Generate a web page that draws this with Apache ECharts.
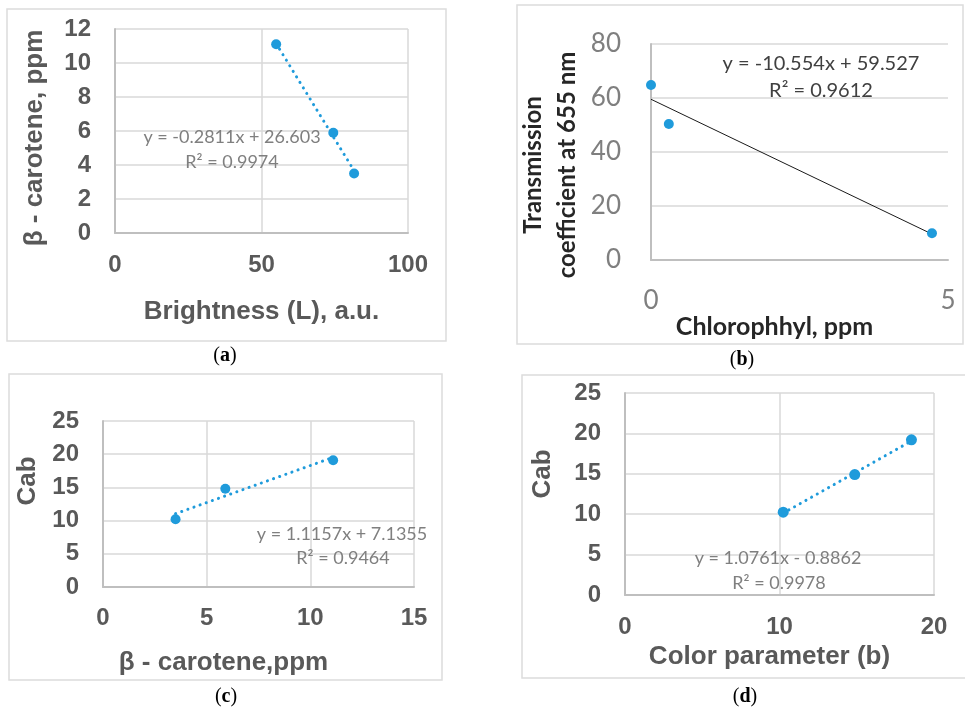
<!DOCTYPE html>
<html>
<head>
<meta charset="utf-8">
<script src="https://cdn.jsdelivr.net/npm/echarts@6/dist/echarts.min.js"></script>
<style>
  html, body { margin: 0; padding: 0; background: #ffffff; }
  #chart { width: 965px; height: 709px; }
</style>
</head>
<body>
<div id="chart"></div>
<script>
// (a) beta-carotene vs brightness
const brightnessL = [55.0, 74.5, 81.6];
const caroteneA = [11.1, 5.9, 3.5];
const fitA = { slope: -0.2811, intercept: 26.603, r2: '0.9974' };

// (b) transmission coefficient vs chlorophyll
const chlorophyll = [0.0, 0.3, 4.73];
const transmission = [64.8, 50.4, 9.9];
const fitB = { slope: -10.554, intercept: 59.527, r2: '0.9612' };

// (c) Cab vs beta-carotene
const caroteneC = [3.5, 5.9, 11.1];
const cabC = [10.2, 14.8, 19.1];
const fitC = { slope: 1.1157, intercept: 7.1355, r2: '0.9464' };

// (d) Cab vs colour parameter b
const colorParamB = [10.24, 14.87, 18.54];
const cabD = [10.25, 14.9, 19.2];
const fitD = { slope: 1.0761, intercept: -0.8862, r2: '0.9978' };

// axis ranges and tick steps
const xTicksA = [0, 100, 50], yTicksA = [0, 12, 2];
const xTicksB = [0, 5, 5],    yTicksB = [0, 80, 20];
const xTicksC = [0, 15, 5],   yTicksC = [0, 25, 5];
const xTicksD = [0, 20, 10],  yTicksD = [0, 25, 5];

const BLUE = '#1f9bdb';
const GRID = '#d9d9d9';
const AXIS = '#bfbfbf';
const ARIAL = '"Liberation Sans", Arial, sans-serif';
const CALI = 'Lato, "Open Sans", sans-serif';

function pairs(xs, ys) { return xs.map((x, i) => [x, ys[i]]); }
function fitLine(xs, fit) {
  const x0 = Math.min(...xs), x1 = Math.max(...xs);
  return [[x0, fit.slope * x0 + fit.intercept], [x1, fit.slope * x1 + fit.intercept]];
}
function eqText(fit) {
  const s = fit.slope.toString();
  const b = fit.intercept < 0 ? ' - ' + Math.abs(fit.intercept) : ' + ' + fit.intercept;
  return 'y = ' + s + 'x' + b;
}

function valAxis(idx, ticks, o) {
  return Object.assign({
    type: 'value', gridIndex: idx,
    min: ticks[0], max: ticks[1], interval: ticks[2],
    axisTick: { show: false },
    axisLine: { show: true, lineStyle: { color: AXIS, width: 2 } },
    splitLine: { show: true, lineStyle: { color: GRID, width: 1.5 } },
    nameLocation: 'middle'
  }, o);
}

const boldTick = (m) => ({ fontFamily: ARIAL, fontWeight: 'bold', fontSize: 24, color: '#595959', margin: m });
const boldName = (extra) => Object.assign({ fontFamily: ARIAL, fontWeight: 'bold', fontSize: 26, color: '#595959' }, extra);

const dotted = { color: BLUE, width: 3, type: [0.1, 6.4], cap: 'round' };

function scatter(i, xs, ys, size) {
  return { type: 'scatter', xAxisIndex: i, yAxisIndex: i, data: pairs(xs, ys),
    symbolSize: size, itemStyle: { color: BLUE, opacity: 1 }, z: 3, silent: true };
}
function trend(i, xs, fit, style) {
  return { type: 'line', xAxisIndex: i, yAxisIndex: i, data: fitLine(xs, fit),
    showSymbol: false, lineStyle: style, z: 2, silent: true };
}

function frame(x, y, w, h) {
  return { type: 'rect', shape: { x: x, y: y, width: w, height: h },
    style: { fill: 'none', stroke: '#dcdcdc', lineWidth: 1.5 }, z: -1 };
}
function label(text, x, y, size, color) {
  return { type: 'text', x: x, y: y, z: 10,
    style: { text: text, fontFamily: CALI, fontSize: size, fill: color, textAlign: 'center', textVerticalAlign: 'middle' } };
}
function caption(letter, x, y) {
  return { type: 'text', x: x, y: y, z: 10,
    style: { text: '({b|' + letter + '})', fontFamily: '"Liberation Serif", serif', fontSize: 20, fill: '#000',
      textAlign: 'center', textVerticalAlign: 'middle',
      rich: { b: { fontFamily: '"Liberation Serif", serif', fontSize: 20, fontWeight: 'bold', fill: '#000' } } } };
}

const chart = echarts.init(document.getElementById('chart'), null, { renderer: 'canvas' });

chart.setOption({
  animation: false,
  backgroundColor: '#ffffff',
  grid: [
    { left: 115, top: 29, width: 293, height: 204 },
    { left: 651, top: 44, width: 297, height: 216 },
    { left: 103, top: 421, width: 311, height: 166 },
    { left: 625, top: 393, width: 309, height: 202 }
  ],
  xAxis: [
    valAxis(0, xTicksA, { name: 'Brightness (L), a.u.', nameGap: 66,
      nameTextStyle: boldName({}), axisLabel: boldTick(20) }),
    valAxis(1, xTicksB, { name: 'Chlorophhyl, ppm', nameGap: 54,
      splitLine: { show: false },
      nameTextStyle: { fontFamily: CALI, fontWeight: 'bold', fontSize: 25, color: '#262626', padding: [0, 50, 0, 0] },
      axisLabel: { fontFamily: CALI, fontSize: 26, color: '#7f7f7f', margin: 28 } }),
    valAxis(2, xTicksC, { name: 'β - carotene,ppm', nameGap: 63,
      nameTextStyle: boldName({ padding: [0, 70, 0, 0] }), axisLabel: boldTick(19) }),
    valAxis(3, xTicksD, { name: 'Color parameter (b)', nameGap: 49,
      nameTextStyle: boldName({ padding: [0, 20, 0, 0] }), axisLabel: boldTick(20) })
  ],
  yAxis: [
    valAxis(0, yTicksA, { name: 'β - carotene, ppm', nameGap: 67,
      nameTextStyle: boldName({ padding: [0, 14, 0, 0] }), axisLabel: boldTick(24) }),
    valAxis(1, yTicksB, { name: 'Transmission\ncoefficient at 655 nm', nameGap: 67,
      nameTextStyle: { fontFamily: CALI, fontWeight: 'bold', fontSize: 24, lineHeight: 34, color: '#262626', padding: [0, 26, 0, 0] },
      axisLabel: { fontFamily: CALI, fontSize: 26, color: '#7f7f7f', margin: 30 } }),
    valAxis(2, yTicksC, { name: 'Cab', nameGap: 62,
      nameTextStyle: boldName({ padding: [0, 0, 0, 46] }), axisLabel: boldTick(24) }),
    valAxis(3, yTicksD, { name: 'Cab', nameGap: 69,
      nameTextStyle: boldName({ padding: [0, 0, 0, 40] }), axisLabel: boldTick(24) })
  ],
  series: [
    trend(0, brightnessL, fitA, dotted),
    scatter(0, brightnessL, caroteneA, 10),
    trend(1, chlorophyll, fitB, { color: '#1a1a1a', width: 1, type: 'solid' }),
    scatter(1, chlorophyll, transmission, 10),
    trend(2, caroteneC, fitC, dotted),
    scatter(2, caroteneC, cabC, 10),
    trend(3, colorParamB, fitD, dotted),
    scatter(3, colorParamB, cabD, 11)
  ],
  graphic: [
    frame(7, 9, 439, 332),
    frame(517, 5, 446, 339),
    frame(9, 374, 433, 306),
    frame(522, 375, 446, 303),
    label(eqText(fitA), 232, 137, 18, '#7f7f7f'),
    label('R² = ' + fitA.r2, 232, 162, 18, '#7f7f7f'),
    label(eqText(fitB), 821, 64, 20, '#404040'),
    label('R² = ' + fitB.r2, 821, 91, 20, '#404040'),
    label(eqText(fitC), 342, 534, 18, '#7f7f7f'),
    label('R² = ' + fitC.r2, 343, 558, 18, '#7f7f7f'),
    label(eqText(fitD), 778, 558, 18, '#7f7f7f'),
    label('R² = ' + fitD.r2, 779, 583, 18, '#7f7f7f'),
    caption('a', 225, 356),
    caption('b', 742, 360),
    caption('c', 226, 697),
    caption('d', 745, 697)
  ]
});
</script>
</body>
</html>
